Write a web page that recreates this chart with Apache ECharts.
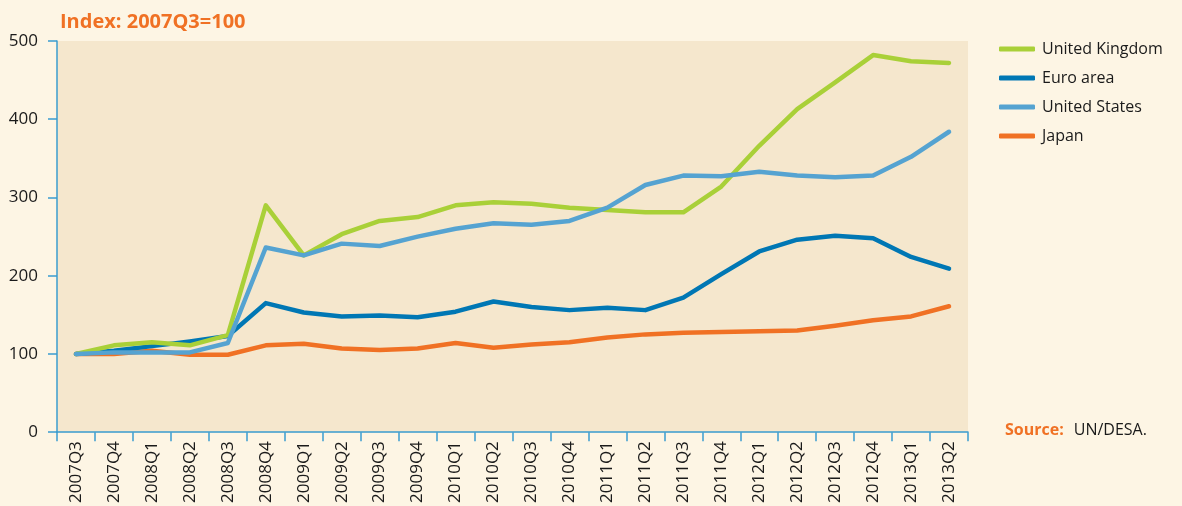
<!DOCTYPE html>
<html>
<head>
<meta charset="utf-8">
<style>
  html, body { margin: 0; padding: 0; background: #fdf5e4; }
  #chart { width: 1182px; height: 506px; }
</style>
<script src="https://cdn.jsdelivr.net/npm/echarts@6/dist/echarts.min.js"></script>
</head>
<body>
<div id="chart"></div>
<script>
// quarters on the x axis
const quarters = [
  '2007Q3', '2007Q4', '2008Q1', '2008Q2', '2008Q3', '2008Q4',
  '2009Q1', '2009Q2', '2009Q3', '2009Q4', '2010Q1', '2010Q2',
  '2010Q3', '2010Q4', '2011Q1', '2011Q2', '2011Q3', '2011Q4',
  '2012Q1', '2012Q2', '2012Q3', '2012Q4', '2013Q1', '2013Q2'
];

// index values, 2007Q3 = 100
const unitedKingdom = [100, 111, 115, 111, 124, 290, 226, 253, 270, 275, 290, 294,
  292, 287, 284, 281, 281, 314, 366, 413, 447, 482, 474, 472];
const euroArea = [100, 104, 110, 116, 123, 165, 153, 148, 149, 147, 154, 167,
  160, 156, 159, 156, 172, 202, 231, 246, 251, 248, 224, 209];
const unitedStates = [100, 102, 102, 102, 114, 236, 226, 241, 238, 250, 260, 267,
  265, 270, 287, 316, 328, 327, 333, 328, 326, 328, 352, 384];
const japan = [100, 100, 104, 99, 99, 111, 113, 107, 105, 107, 114, 108,
  112, 115, 121, 125, 127, 128, 129, 130, 136, 143, 148, 161];

const FONT = '"Open Sans", "Noto Sans", sans-serif';
const AXIS_BLUE = '#3a9ccf';

const chart = echarts.init(document.getElementById('chart'), null, { renderer: 'canvas' });

function line(name, data, color, z) {
  return {
    name,
    type: 'line',
    data,
    symbol: 'none',
    z,
    lineStyle: { width: 4.5, color, cap: 'round', join: 'round' },
    itemStyle: { color },
    animation: false
  };
}

chart.setOption({
  backgroundColor: '#fdf5e4',
  animation: false,
  title: [
    {
      text: 'Index: 2007Q3=100',
      left: 55,
      top: 7,
      textStyle: { color: '#f07124', fontSize: 20, fontWeight: 'bold', fontFamily: FONT }
    },
    {
      text: '{a|Source:}  {b|UN/DESA.}',
      left: 1000,
      top: 416,
      textStyle: {
        fontWeight: 'normal',
        rich: {
          a: { color: '#f07124', fontSize: 16, fontWeight: 'bold', fontFamily: FONT },
          b: { color: '#1a1a1a', fontSize: 16, fontWeight: 'normal', fontFamily: FONT }
        }
      }
    }
  ],
  legend: {
    data: ['United Kingdom', 'Euro area', 'United States', 'Japan'],
    orient: 'vertical',
    left: 994,
    top: 36,
    itemWidth: 36,
    itemHeight: 5,
    itemGap: 13,
    icon: 'roundRect',
    textStyle: { color: '#1a1a1a', fontSize: 16, fontFamily: FONT, padding: [0, 0, 0, 2] }
  },
  grid: {
    left: 57,
    right: 214,
    top: 41,
    bottom: 73,
    show: true,
    backgroundColor: '#f5e7cd',
    borderWidth: 0
  },
  xAxis: {
    type: 'category',
    data: quarters,
    boundaryGap: true,
    axisLine: { lineStyle: { color: AXIS_BLUE, width: 1.5 } },
    axisTick: { show: true, length: 9, lineStyle: { color: AXIS_BLUE, width: 1.5 } },
    axisLabel: {
      rotate: 90,
      interval: 0,
      margin: 9,
      color: '#1a1a1a',
      fontSize: 17,
      fontFamily: FONT
    },
    splitLine: { show: false }
  },
  yAxis: {
    type: 'value',
    min: 0,
    max: 500,
    interval: 100,
    axisLine: { show: true, lineStyle: { color: AXIS_BLUE, width: 1.5 } },
    axisTick: { show: true, length: 9, lineStyle: { color: AXIS_BLUE, width: 1.5 } },
    axisLabel: { color: '#1a1a1a', fontSize: 17, fontFamily: FONT, margin: 19 },
    splitLine: { show: false }
  },
  series: [
    line('Japan', japan, '#f07124', 2),
    line('Euro area', euroArea, '#0077b4', 3),
    line('United Kingdom', unitedKingdom, '#a9d038', 4),
    line('United States', unitedStates, '#55a3d1', 5)
  ]
});

window.addEventListener('resize', () => chart.resize());
</script>
</body>
</html>
